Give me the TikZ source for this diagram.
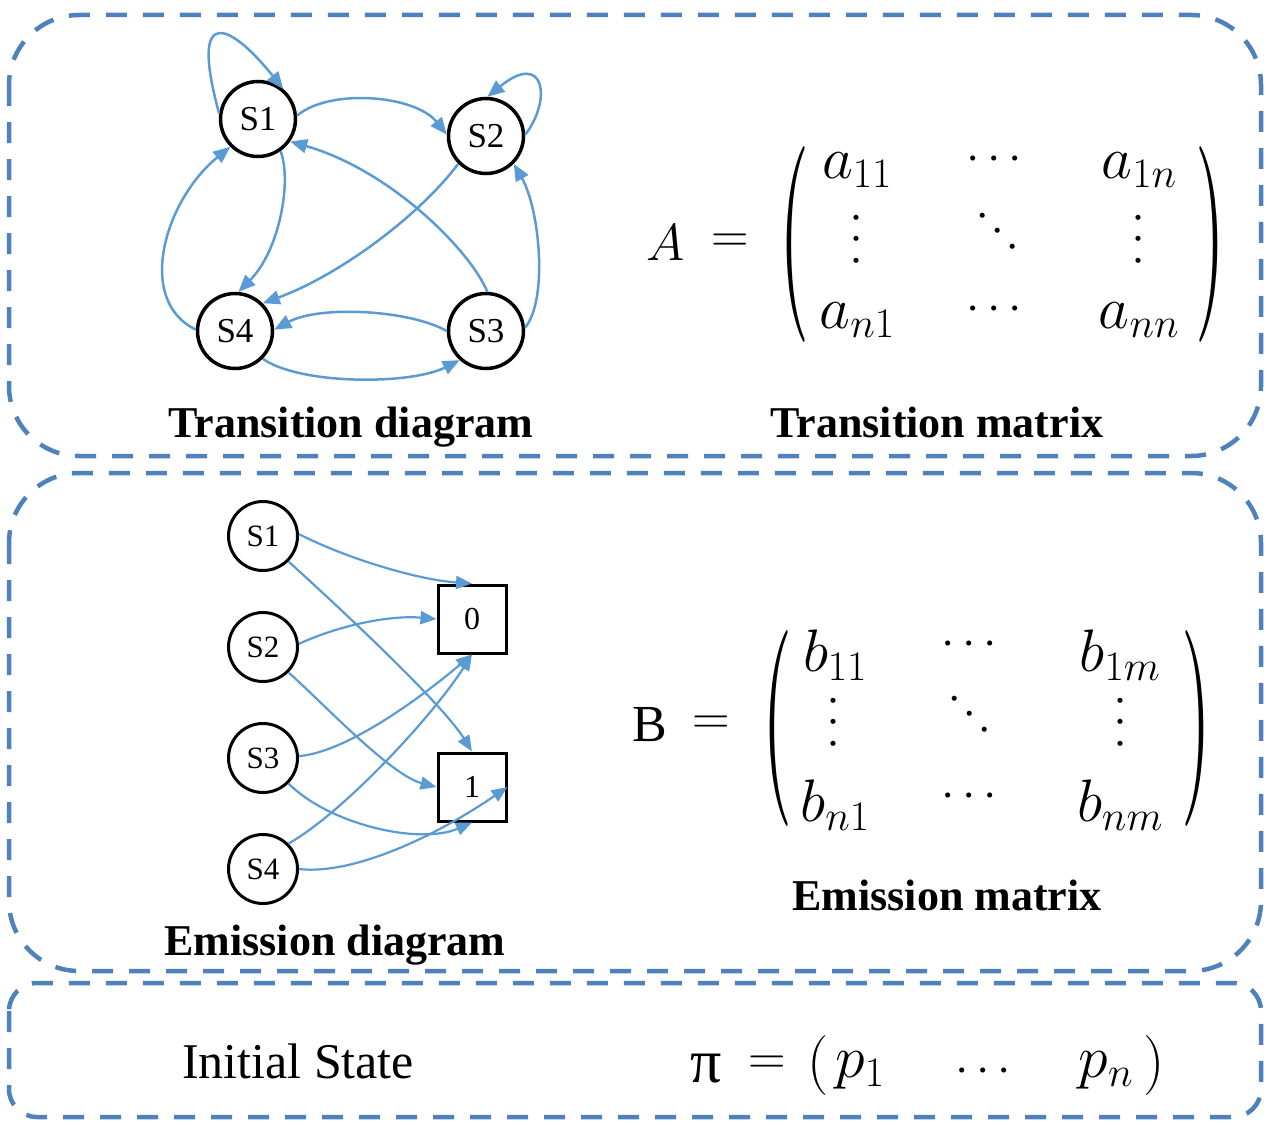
\RequirePackage{fix-cm}
\documentclass[tikz,border=0pt]{standalone}
\usepackage{fontspec}
\setmainfont{Liberation Serif}
\usepackage{amsmath}
\usepackage{graphicx}
\usetikzlibrary{arrows.meta}
\definecolor{edgeblue}{HTML}{5B9BD5}
\definecolor{boxblue}{HTML}{4F81BD}
\newcommand{\bigparL}{\resizebox*{30pt}{196pt}{$($}}
\newcommand{\bigparR}{\resizebox*{30pt}{196pt}{$)$}}
\begin{document}
\begin{tikzpicture}[x=1pt,y=-1pt,
  panel/.style={draw=boxblue, line width=4.5pt, dash pattern=on 21pt off 16pt},
  tstate/.style={circle, draw=black, line width=3.5pt, fill=white, minimum size=75pt, inner sep=0pt, font=\fontsize{35}{40}\selectfont},
  estate/.style={circle, draw=black, line width=3pt, fill=white, minimum size=69pt, inner sep=0pt, font=\fontsize{31}{36}\selectfont},
  obs/.style={rectangle, draw=black, line width=3pt, fill=white, minimum size=68pt, inner sep=0pt, font=\fontsize{32}{36}\selectfont},
  link/.style={draw=edgeblue, line width=2.5pt, -{Triangle[length=17pt,width=14pt]}},
  elink/.style={draw=edgeblue, line width=2.2pt, -{Triangle[length=16pt,width=13pt]}},
  caption/.style={font=\fontsize{44}{50}\selectfont\bfseries, anchor=base, inner sep=0pt},
  mathbig/.style={font=\fontsize{52}{60}\selectfont, inner sep=0pt},
  entry/.style={font=\fontsize{60}{68}\selectfont, inner sep=0pt},
  dotsn/.style={font=\fontsize{48}{55}\selectfont, inner sep=0pt},
  paren/.style={inner sep=0pt},
]
\useasboundingbox (0,0) rectangle (1268,1124);

% panels
\draw[panel, rounded corners=70pt] (9,15) rectangle (1261,456);
\draw[panel, rounded corners=70pt] (9,473) rectangle (1261,971);
\draw[panel, rounded corners=28pt] (9,983) rectangle (1261,1117);

% transition diagram
\node[tstate] (T1) at (258,119) {S1};
\node[tstate] (T2) at (486,136) {S2};
\node[tstate] (T3) at (486,331) {S3};
\node[tstate] (T4) at (235,331) {S4};

\draw[link] (T1.172) .. controls (188,0) and (232,25) .. (T1.50);
\draw[link] (T1.5) .. controls (330,88) and (415,95) .. (T2.178);
\draw[link] (T2.2) .. controls (552,100) and (545,50) .. (T2.88);
\draw[link] (T3.88) .. controls (470,250) and (390,170) .. (T1.-35);
\draw[link] (T2.225) .. controls (420,215) and (340,275) .. (T4.45);
\draw[link] (T1.-55) .. controls (292,180) and (280,250) .. (T4.85);
\draw[link] (T4.178) .. controls (135,300) and (165,200) .. (T1.225);
\draw[link] (T3.180) .. controls (410,310) and (320,305) .. (T4.2);
\draw[link] (T4.-45) .. controls (300,385) and (410,385) .. (T3.-132);
\draw[link] (T3.5) .. controls (548,300) and (540,210) .. (T2.-45);

\node[caption] (capTD) at (351,437) {Transition diagram};

% transition matrix
\node[mathbig] (Asym) at (666,243) {$A$};
\node[mathbig] (Aeq) at (730,243) {$=$};
\node[paren] (Alp) at (794,244) {\bigparL};
\node[paren] (Arp) at (1210,244) {\bigparR};
\node[entry] (a11) at (857,170) {$a_{11}$};
\node[dotsn] (a1c) at (998,160) {$\cdots$};
\node[entry] (a1n) at (1139,170) {$a_{1n}$};
\node[dotsn, rotate=90] (a2v) at (858,235) {$\cdots$};
\node[dotsn, rotate=-45] (a2d) at (1000,235) {$\cdots$};
\node[dotsn, rotate=90] (a2w) at (1140,235) {$\cdots$};
\node[entry] (an1) at (857,320) {$a_{n1}$};
\node[dotsn] (anc) at (998,310) {$\cdots$};
\node[entry] (ann) at (1139,320) {$a_{nn}$};
\node[caption] (capTM) at (937,437) {Transition matrix};

% emission diagram
\node[estate] (E1) at (263,536) {S1};
\node[estate] (E2) at (263,647) {S2};
\node[estate] (E3) at (263,758) {S3};
\node[estate] (E4) at (263,869) {S4};
\node[obs] (O0) at (472,619) {0};
\node[obs] (O1) at (472,787) {1};

\draw[elink] (E1.3) .. controls (350,560) and (420,580) .. (O0.north);
\draw[elink] (E1.-45) .. controls (320,590) and (440,700) .. (O1.north);
\draw[elink] (E2.5) .. controls (340,625) and (390,615) .. (O0.west);
\draw[elink] (E2.-45) .. controls (320,700) and (390,775) .. (O1.west);
\draw[elink] (E3.3) .. controls (350,752) and (430,690) .. (O0.south);
\draw[elink] (E3.-45) .. controls (330,825) and (420,845) .. (O1.south);
\draw[elink] (E4.45) .. controls (340,815) and (430,720) .. (O0.south);
\draw[elink] (E4.0) .. controls (350,875) and (430,840) .. (O1.east);

\node[caption] (capED) at (335,955) {Emission diagram};

% emission matrix
\node[mathbig] (Bsym) at (650,725) {$\mathrm{B}$};
\node[mathbig] (Beq) at (711,725) {$=$};
\node[paren] (Blp) at (777,728) {\bigparL};
\node[paren] (Brp) at (1196,728) {\bigparR};
\node[entry] (b11) at (835,655) {$b_{11}$};
\node[dotsn] (b1c) at (973,645) {$\cdots$};
\node[entry] (b1m) at (1120,655) {$b_{1m}$};
\node[dotsn, rotate=90] (b2v) at (835,718) {$\cdots$};
\node[dotsn, rotate=-45] (b2d) at (972,718) {$\cdots$};
\node[dotsn, rotate=90] (b2w) at (1122,718) {$\cdots$};
\node[entry] (bn1) at (835,805) {$b_{n1}$};
\node[dotsn] (bnc) at (973,797) {$\cdots$};
\node[entry] (bnm) at (1120,805) {$b_{nm}$};
\node[caption] (capEM) at (947,910) {Emission matrix};

% initial state
\node[font=\fontsize{50}{56}\selectfont, anchor=base, inner sep=0pt] (init) at (298,1078) {Initial State};
\node[font=\fontsize{62}{70}\selectfont, anchor=base, inner sep=0pt] (pisym) at (706,1082) {π};
\node[mathbig] (pieq) at (767,1065) {$=$};
\node[entry] (pilp) at (818,1065) {$($};
\node[entry] (p1) at (860,1070) {$p_1$};
\node[dotsn] (pic) at (987,1072) {$\cdots$};
\node[entry] (pn) at (1106,1070) {$p_n$};
\node[entry] (pirp) at (1154,1065) {$)$};
\end{tikzpicture}
\end{document}
